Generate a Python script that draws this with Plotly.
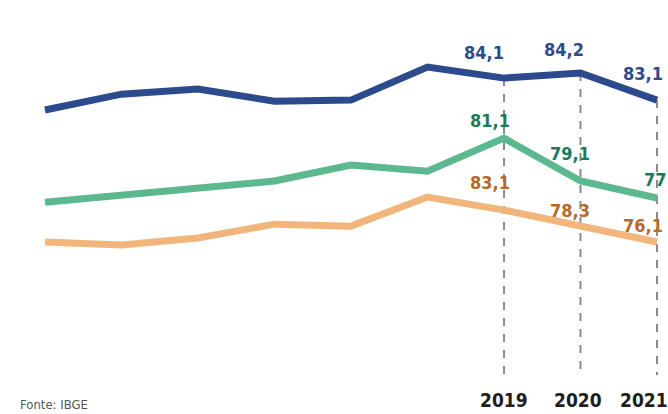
import plotly.graph_objects as go

years = [2013, 2014, 2015, 2016, 2017, 2018, 2019, 2020, 2021]
blue_vals = [82.65, 83.37, 83.60, 83.05, 83.10, 84.60, 84.10, 84.33, 83.10]
green_vals = [78.46, 78.78, 79.10, 79.42, 80.15, 79.87, 81.37, 79.42, 78.65]
orange_vals = [76.65, 76.51, 76.83, 77.46, 77.37, 78.69, 78.10, 77.37, 76.65]

label_years = [2019, 2020, 2021]
blue_labels = ["84,1", "84,2", "83,1"]
green_labels = ["81,1", "79,1", "77"]
orange_labels = ["83,1", "78,3", "76,1"]

BLUE = "#2c4a8c"
GREEN = "#5cb88f"
ORANGE = "#f2b67c"
BLUE_T = "#2e4b8b"
GREEN_T = "#1b7a58"
ORANGE_T = "#b5692b"
FONT = "DejaVu Sans Condensed, Liberation Sans Narrow, sans-serif"

fig = go.Figure()

# dashed guide lines from the blue point down to the axis
for yr in label_years:
    i = years.index(yr)
    fig.add_trace(go.Scatter(x=[yr, yr], y=[blue_vals[i], 70.6], mode="lines",
                             line=dict(color="#8a8a8a", width=2, dash="8px,8px"),
                             hoverinfo="skip", showlegend=False))

for vals, col in [(orange_vals, ORANGE), (green_vals, GREEN), (blue_vals, BLUE)]:
    fig.add_trace(go.Scatter(x=years, y=vals, mode="lines",
                             line=dict(color=col, width=7, shape="linear"),
                             showlegend=False))

annotations = []
offsets = {
    "blue": [(-20, 26), (-16, 24), (-14, 27)],
    "green": [(-14, 18), (-10, 28), (-1, 18)],
    "orange": [(-14, 28), (-10, 16), (-14, 16)],
}
for name, vals, labels, col in [("blue", blue_vals, blue_labels, BLUE_T),
                                ("green", green_vals, green_labels, GREEN_T),
                                ("orange", orange_vals, orange_labels, ORANGE_T)]:
    for k, yr in enumerate(label_years):
        i = years.index(yr)
        dx, dy = offsets[name][k]
        annotations.append(dict(x=yr, y=vals[i], text="<b>%s</b>" % labels[k],
                                showarrow=False, xshift=dx, yshift=dy,
                                font=dict(family=FONT, size=18, color=col)))

year_shift = [0, -2, -13]
for k, yr in enumerate(label_years):
    annotations.append(dict(x=yr, y=0.034, yref="paper", yanchor="middle",
                            xshift=year_shift[k], text="<b>%d</b>" % yr,
                            showarrow=False, font=dict(family=FONT, size=19, color="#1e1e1e")))

annotations.append(dict(x=0.027, y=0.0, xref="paper", yref="paper", text="Fonte: IBGE",
                        showarrow=False, xanchor="left", yanchor="bottom",
                        font=dict(family=FONT, size=13, color="#555555")))

fig.update_layout(
    width=668, height=414,
    margin=dict(l=0, r=0, t=0, b=0),
    paper_bgcolor="white", plot_bgcolor="white",
    xaxis=dict(range=[2012.412, 2021.144], visible=False, fixedrange=True),
    yaxis=dict(range=[68.83, 87.65], visible=False, fixedrange=True),
    annotations=annotations,
    showlegend=False,
)

fig.write_html("out.html")
